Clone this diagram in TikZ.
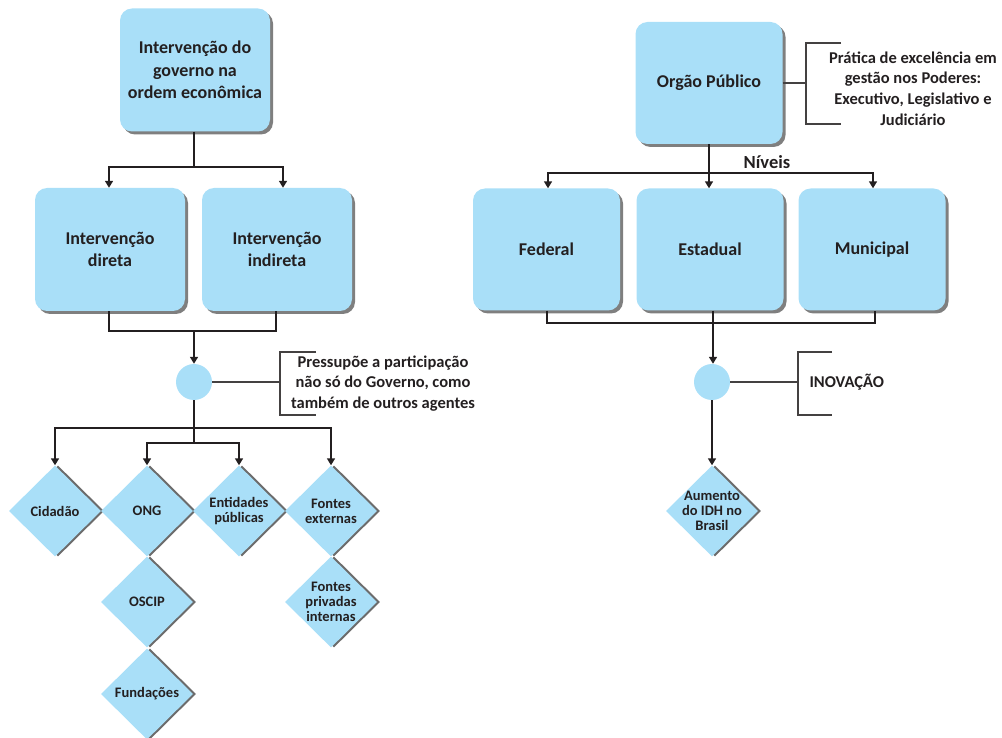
\documentclass[tikz,border=0pt]{standalone}
\usepackage{fontspec}
\setmainfont{Carlito}
\usetikzlibrary{arrows.meta,shapes.geometric,shadows}
\definecolor{boxblue}{HTML}{A9DFF8}
\definecolor{shadowgray}{HTML}{7F7F7F}
\definecolor{ink}{HTML}{231F20}
\tikzset{
  bigbox/.style={rectangle, rounded corners=12pt, fill=boxblue, align=center,
    text=ink, font=\fontsize{18}{22.5}\selectfont\bfseries,
    general shadow={fill=shadowgray, shadow xshift=3pt, shadow yshift=-3pt}},
  leftbox/.style={bigbox, minimum width=150pt, minimum height=123pt},
  rightbox/.style={bigbox, minimum width=147pt, minimum height=122pt},
  % negative inner sep keeps every diamond at its fixed minimum size
  dia/.style={diamond, aspect=1, inner sep=-12pt, minimum width=92pt, minimum height=91pt,
    fill=boxblue, align=center, text=ink,
    font=\fontsize{14.5}{15}\selectfont\bfseries,
    general shadow={fill=shadowgray!85!black, shadow xshift=3pt, shadow yshift=0pt}},
  dot/.style={circle, fill=boxblue, minimum size=36pt, inner sep=0pt},
  conn/.style={draw=ink, line width=1.6pt},
  arr/.style={conn, -{Triangle[length=7pt,width=8pt]}},
  brace/.style={draw=ink!85, line width=1.1pt},
  note/.style={align=center, text=ink, font=\fontsize{16.5}{20.7}\selectfont\bfseries},
}
\begin{document}
\begin{tikzpicture}[x=1pt,y=-1pt]
\useasboundingbox (0,0) rectangle (1002,738);

% ---------- left tree ----------
\node[leftbox] (gov) at (195,70) {Intervenção do\\governo na\\ordem econômica};
\node[leftbox] (dir) at (110,249.5) {Intervenção\\direta};
\node[leftbox] (ind) at (277,249.5) {Intervenção\\indireta};
\node[dot] (c1) at (194,382) {};

\coordinate (s1) at (194,167);
\draw[conn] (gov.south -| s1) -- (s1);
\draw[arr] (s1) -- (109,167) -- (dir.north -| 109,0);
\draw[arr] (s1) -- (283,167) -- (ind.north -| 283,0);

\coordinate (j1) at (194,331);
\draw[conn] (dir.south -| 109,0) -- (109,331) -- (276,331) -- (ind.south -| 276,0);
\draw[arr] (j1) -- (c1.north);

% note beside the circle
\coordinate (b1) at (280,382);
\draw[brace] (c1.east) -- (b1);
\draw[brace] (316,352) -- (280,352) -- (280,415) -- (316,415);
\node[note] (n1) at (383,383.5) {Pressupõe a participação\\não só do Governo, como\\também de outros agentes};

% diamonds
\node[dia] (cid) at (55,511) {Cidadão};
\node[dia] (ong) at (147,511) {ONG};
\node[dia] (ent) at (239,511) {Entidades\\públicas};
\node[dia] (fex) at (331,511) {Fontes\\externas};
\node[dia] (osc) at (147,602) {OSCIP};
\node[dia] (fun) at (147,694) {Fundações};
\node[dia] (fpi) at (331,602) {Fontes\\privadas\\internas};

\coordinate (s2) at (194,428);
\coordinate (s3) at (194,443);
\draw[conn] (c1.south) -- (s3);
\draw[arr] (s2) -- (cid.north |- s2) -- (cid.north);
\draw[arr] (s2) -- (fex.north |- s2) -- (fex.north);
\draw[arr] (s3) -- (ong.north |- s3) -- (ong.north);
\draw[arr] (s3) -- (ent.north |- s3) -- (ent.north);

% ---------- right tree ----------
\node[rightbox] (org) at (709,83) {Orgão Público};
\node[rightbox] (fed) at (546.5,249.5) {Federal};
\node[rightbox] (est) at (710,249.5) {Estadual};
\node[rightbox] (mun) at (872,249.5) {Municipal};
\node[dot] (c2) at (712,382) {};
\node[dia] (idh) at (712,511) {Aumento\\do IDH no\\Brasil};

\coordinate (s4) at (709,173);
\draw[arr] (org.south -| s4) -- (est.north -| s4);
\draw[arr] (s4) -- (548,173) -- (fed.north -| 548,0);
\draw[arr] (s4) -- (873,173) -- (mun.north -| 873,0);
\node[note, font=\fontsize{18.5}{22}\selectfont\bfseries] (niv) at (767,162) {Níveis};

\coordinate (j2) at (713,323);
\draw[conn] (fed.south -| 547,0) -- (547,323) -- (875,323) -- (mun.south -| 875,0);
\draw[conn] (est.south -| j2) -- (j2);
\draw[arr] (j2) -- (c2.north -| j2);
\draw[arr] (c2.south) -- (idh.north);

% note beside the upper box
\coordinate (b2) at (806,83);
\draw[brace] (org.east |- b2) -- (b2);
\draw[brace] (841,43) -- (806,43) -- (806,124) -- (841,124);
\node[note] (n2) at (913,88.5) {Prática de excelência em\\gestão nos Poderes:\\Executivo, Legislativo e\\Judiciário};

% note beside the lower circle
\coordinate (b3) at (798,382);
\draw[brace] (c2.east) -- (b3);
\draw[brace] (832,352) -- (798,352) -- (798,415) -- (832,415);
\node[note, anchor=west] (n3) at (806,382) {INOVAÇÃO};
\end{tikzpicture}
\end{document}
